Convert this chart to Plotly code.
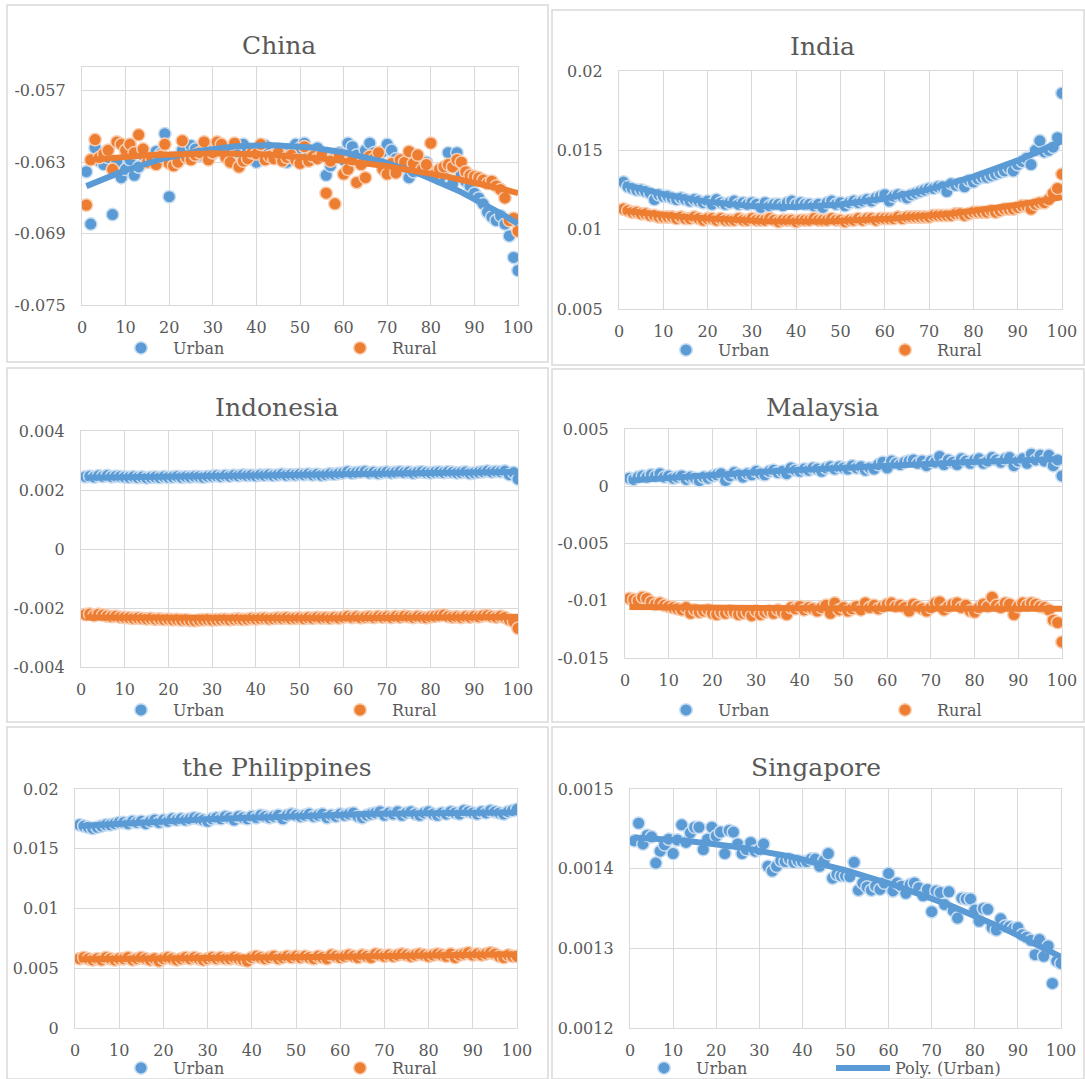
import numpy as np
import plotly.graph_objects as go

W, H = 1085, 1079

# Percentile positions shared by every panel
pctl = list(range(1, 101))

x_tickvals = [0, 10, 20, 30, 40, 50, 60, 70, 80, 90, 100]
x_ticktext = ["0", "10", "20", "30", "40", "50", "60", "70", "80", "90", "100"]

# ---------------- China ----------------
china_urban = [
    -0.0638, -0.0682, -0.0618, -0.0629, -0.0632, -0.0626, -0.0674, -0.0630, -0.0643, -0.0636,
    -0.0628, -0.0641, -0.0634, -0.0624, -0.0630, -0.0626, -0.0621, -0.0623, -0.0606, -0.0659,
    -0.0626, -0.0629, -0.0620, -0.0626, -0.0616, -0.0619, -0.0624, -0.0621, -0.0619, -0.0623,
    -0.0617, -0.0620, -0.0625, -0.0619, -0.0616, -0.0622, -0.0615, -0.0620, -0.0627, -0.0630,
    -0.0618, -0.0616, -0.0621, -0.0624, -0.0619, -0.0622, -0.0630, -0.0620, -0.0615, -0.0618,
    -0.0614, -0.0621, -0.0625, -0.0618, -0.0623, -0.0641, -0.0633, -0.0626, -0.0622, -0.0628,
    -0.0614, -0.0617, -0.0624, -0.0629, -0.0620, -0.0614, -0.0622, -0.0626, -0.0621, -0.0615,
    -0.0620, -0.0627, -0.0631, -0.0634, -0.0643, -0.0638, -0.0636, -0.0634, -0.0630, -0.0638,
    -0.0641, -0.0644, -0.0636, -0.0622, -0.0648, -0.0622, -0.0640, -0.0646, -0.0650, -0.0656,
    -0.0660, -0.0665, -0.0672, -0.0676, -0.0679, -0.0675, -0.0682, -0.0692, -0.0710, -0.0721,
]
china_rural = [
    -0.0666, -0.0628, -0.0611, -0.0626, -0.0623, -0.0620, -0.0636, -0.0613, -0.0615, -0.0620,
    -0.0615, -0.0622, -0.0607, -0.0619, -0.0630, -0.0627, -0.0632, -0.0625, -0.0615, -0.0631,
    -0.0633, -0.0630, -0.0612, -0.0626, -0.0628, -0.0624, -0.0622, -0.0613, -0.0628, -0.0622,
    -0.0613, -0.0615, -0.0626, -0.0630, -0.0614, -0.0634, -0.0629, -0.0627, -0.0622, -0.0623,
    -0.0615, -0.0628, -0.0625, -0.0627, -0.0622, -0.0629, -0.0626, -0.0624, -0.0628, -0.0631,
    -0.0617, -0.0629, -0.0625, -0.0627, -0.0624, -0.0656, -0.0629, -0.0665, -0.0624, -0.0640,
    -0.0636, -0.0628, -0.0647, -0.0632, -0.0643, -0.0625, -0.0627, -0.0622, -0.0636, -0.0640,
    -0.0631, -0.0639, -0.0628, -0.0630, -0.0621, -0.0631, -0.0624, -0.0636, -0.0632, -0.0614,
    -0.0640, -0.0636, -0.0634, -0.0632, -0.0634, -0.0628, -0.0630, -0.0638, -0.0641, -0.0642,
    -0.0643, -0.0645, -0.0648, -0.0646, -0.0650, -0.0653, -0.0660, -0.0679, -0.0677, -0.0688,
]
china_ticks = [-0.075, -0.069, -0.063, -0.057]
china_ticktext = ["-0.075", "-0.069", "-0.063", "-0.057"]

# ---------------- India ----------------
india_urban = [
    0.0130, 0.0127, 0.0126, 0.0125, 0.0125, 0.0124, 0.0123, 0.0119, 0.0122, 0.0121,
    0.0121, 0.0120, 0.0119, 0.0120, 0.0119, 0.0118, 0.0119, 0.0118, 0.0117, 0.0118,
    0.0116, 0.0119, 0.0117, 0.0116, 0.0117, 0.0118, 0.0116, 0.0117, 0.0116, 0.0117,
    0.0116, 0.0114, 0.0117, 0.0115, 0.0116, 0.0116, 0.0115, 0.0117, 0.0118, 0.0116,
    0.0117, 0.0116, 0.0116, 0.0115, 0.0116, 0.0114, 0.0117, 0.0118, 0.0116, 0.0117,
    0.0115, 0.0117, 0.0118, 0.0117, 0.0118, 0.0119, 0.0118, 0.0120, 0.0121, 0.0122,
    0.0118, 0.0121, 0.0122, 0.0121, 0.0120, 0.0122, 0.0123, 0.0124, 0.0125, 0.0126,
    0.0126, 0.0127, 0.0127, 0.0124, 0.0129, 0.0128, 0.0129, 0.0127, 0.0131, 0.0130,
    0.0132, 0.0133, 0.0133, 0.0134, 0.0135, 0.0136, 0.0137, 0.0139, 0.0137, 0.0141,
    0.0143, 0.0145, 0.0141, 0.0150, 0.0156, 0.0149, 0.0150, 0.0152, 0.0158, 0.0186,
]
india_rural = [
    0.0113, 0.0112, 0.0111, 0.0111, 0.0110, 0.0110, 0.0109, 0.0109, 0.0108, 0.0108,
    0.0108, 0.0108, 0.0107, 0.0108, 0.0107, 0.0107, 0.0108, 0.0107, 0.0106, 0.0107,
    0.0107, 0.0106, 0.0107, 0.0106, 0.0106, 0.0106, 0.0107, 0.0106, 0.0106, 0.0107,
    0.0106, 0.0106, 0.0106, 0.0107, 0.0106, 0.0105, 0.0106, 0.0106, 0.0106, 0.0105,
    0.0106, 0.0106, 0.0106, 0.0107, 0.0106, 0.0106, 0.0106, 0.0107, 0.0106, 0.0106,
    0.0105, 0.0106, 0.0106, 0.0107, 0.0106, 0.0107, 0.0107, 0.0106, 0.0107, 0.0107,
    0.0107, 0.0107, 0.0108, 0.0107, 0.0108, 0.0108, 0.0108, 0.0108, 0.0108, 0.0108,
    0.0109, 0.0109, 0.0109, 0.0109, 0.0109, 0.0110, 0.0110, 0.0109, 0.0110, 0.0111,
    0.0111, 0.0111, 0.0111, 0.0112, 0.0111, 0.0112, 0.0113, 0.0113, 0.0113, 0.0114,
    0.0115, 0.0115, 0.0113, 0.0116, 0.0117, 0.0117, 0.0119, 0.0123, 0.0126, 0.0135,
]
india_ticks = [0.005, 0.01, 0.015, 0.02]
india_ticktext = ["0.005", "0.01", "0.015", "0.02"]

# ---------------- Indonesia ----------------
indonesia_urban = [
    0.00245, 0.00247, 0.00244, 0.00248, 0.00246, 0.00249, 0.00245, 0.00247, 0.00246, 0.00244,
    0.00243, 0.00245, 0.00242, 0.00244, 0.00241, 0.00243, 0.00244, 0.00242, 0.00245, 0.00243,
    0.00244, 0.00246, 0.00243, 0.00245, 0.00244, 0.00246, 0.00245, 0.00243, 0.00246, 0.00247,
    0.00248, 0.00246, 0.00249, 0.00247, 0.00250, 0.00248, 0.00251, 0.00249, 0.00250, 0.00248,
    0.00251, 0.00250, 0.00252, 0.00249, 0.00251, 0.00253, 0.00250, 0.00252, 0.00251, 0.00253,
    0.00252, 0.00254, 0.00251, 0.00253, 0.00250, 0.00252, 0.00255, 0.00253, 0.00256, 0.00258,
    0.00262, 0.00257, 0.00259, 0.00261, 0.00263, 0.00258, 0.00260, 0.00256, 0.00259, 0.00261,
    0.00258, 0.00260, 0.00262, 0.00259, 0.00261, 0.00257, 0.00260, 0.00262, 0.00259, 0.00258,
    0.00260, 0.00261, 0.00259, 0.00262, 0.00260, 0.00258, 0.00259, 0.00261, 0.00256, 0.00258,
    0.00260, 0.00262, 0.00264, 0.00261, 0.00263, 0.00262, 0.00264, 0.00252, 0.00259, 0.00237,
]
indonesia_rural = [
    -0.00222, -0.00220, -0.00226, -0.00221, -0.00224, -0.00227, -0.00229, -0.00228, -0.00231, -0.00232,
    -0.00233, -0.00235, -0.00234, -0.00236, -0.00237, -0.00236, -0.00238, -0.00237, -0.00239, -0.00238,
    -0.00240, -0.00239, -0.00241, -0.00240, -0.00242, -0.00243, -0.00241, -0.00240, -0.00239, -0.00241,
    -0.00240, -0.00239, -0.00238, -0.00240, -0.00238, -0.00237, -0.00239, -0.00238, -0.00236, -0.00237,
    -0.00236, -0.00235, -0.00237, -0.00236, -0.00234, -0.00235, -0.00233, -0.00236, -0.00235, -0.00234,
    -0.00236, -0.00233, -0.00235, -0.00232, -0.00234, -0.00233, -0.00235, -0.00232, -0.00234, -0.00231,
    -0.00229, -0.00232, -0.00230, -0.00233, -0.00231, -0.00230, -0.00232, -0.00229, -0.00231, -0.00230,
    -0.00232, -0.00229, -0.00231, -0.00228, -0.00230, -0.00232, -0.00229, -0.00231, -0.00233, -0.00230,
    -0.00228, -0.00226, -0.00224, -0.00229, -0.00231, -0.00230, -0.00232, -0.00229, -0.00231, -0.00228,
    -0.00230, -0.00226, -0.00225, -0.00229, -0.00231, -0.00228, -0.00232, -0.00240, -0.00246, -0.00269,
]
indonesia_ticks = [-0.004, -0.002, 0, 0.002, 0.004]
indonesia_ticktext = ["-0.004", "-0.002", "0", "0.002", "0.004"]

# ---------------- Malaysia ----------------
malaysia_urban = [
    0.0007, 0.0006, 0.0008, 0.0009, 0.0008, 0.0010, 0.0009, 0.0011, 0.0008, 0.0009,
    0.0007, 0.0008, 0.0009, 0.0006, 0.0008, 0.0007, 0.0005, 0.0008, 0.0007, 0.0009,
    0.0010, 0.0011, 0.0005, 0.0009, 0.0012, 0.0010, 0.0008, 0.0011, 0.0010, 0.0013,
    0.0011, 0.0010, 0.0013, 0.0014, 0.0012, 0.0013, 0.0011, 0.0016, 0.0014, 0.0013,
    0.0015, 0.0014, 0.0016, 0.0015, 0.0013, 0.0016, 0.0017, 0.0015, 0.0017, 0.0016,
    0.0015, 0.0018, 0.0016, 0.0017, 0.0014, 0.0016, 0.0015, 0.0019, 0.0021, 0.0016,
    0.0022, 0.0020, 0.0019, 0.0021, 0.0022, 0.0023, 0.0020, 0.0022, 0.0018, 0.0022,
    0.0021, 0.0026, 0.0019, 0.0023, 0.0021, 0.0019, 0.0024, 0.0022, 0.0020, 0.0023,
    0.0024, 0.0020, 0.0022, 0.0025, 0.0023, 0.0021, 0.0024, 0.0025, 0.0018, 0.0022,
    0.0024, 0.0020, 0.0028, 0.0023, 0.0027, 0.0022, 0.0027, 0.0018, 0.0023, 0.0009,
]
malaysia_rural = [
    -0.0098, -0.0099, -0.0100, -0.0097, -0.0098, -0.0101, -0.0103, -0.0102, -0.0104, -0.0105,
    -0.0106, -0.0107, -0.0108, -0.0106, -0.0111, -0.0108, -0.0110, -0.0109, -0.0108, -0.0111,
    -0.0112, -0.0110, -0.0111, -0.0109, -0.0110, -0.0112, -0.0111, -0.0110, -0.0113, -0.0109,
    -0.0112, -0.0110, -0.0109, -0.0111, -0.0108, -0.0110, -0.0112, -0.0106, -0.0107, -0.0105,
    -0.0108, -0.0106, -0.0107, -0.0109, -0.0106, -0.0104, -0.0111, -0.0102, -0.0108, -0.0106,
    -0.0109, -0.0107, -0.0105, -0.0108, -0.0102, -0.0106, -0.0104, -0.0107, -0.0105, -0.0103,
    -0.0102, -0.0105, -0.0104, -0.0106, -0.0109, -0.0103, -0.0105, -0.0107, -0.0109, -0.0106,
    -0.0102, -0.0101, -0.0108, -0.0105, -0.0103, -0.0102, -0.0106, -0.0104, -0.0109, -0.0110,
    -0.0106, -0.0103, -0.0105, -0.0097, -0.0104, -0.0106, -0.0102, -0.0103, -0.0112, -0.0105,
    -0.0102, -0.0104, -0.0102, -0.0103, -0.0105, -0.0106, -0.0108, -0.0117, -0.0119, -0.0136,
]
malaysia_ticks = [-0.015, -0.01, -0.005, 0, 0.005]
malaysia_ticktext = ["-0.015", "-0.01", "-0.005", "0", "0.005"]

# ---------------- the Philippines ----------------
philippines_urban = [
    0.0170, 0.0169, 0.0168, 0.0167, 0.0168, 0.0169, 0.0170, 0.0170, 0.0171, 0.0172,
    0.0172, 0.0171, 0.0173, 0.0172, 0.0173, 0.0171, 0.0173, 0.0174, 0.0172, 0.0174,
    0.0173, 0.0175, 0.0174, 0.0175, 0.0174, 0.0175, 0.0176, 0.0175, 0.0174, 0.0173,
    0.0175, 0.0176, 0.0175, 0.0177, 0.0176, 0.0174, 0.0177, 0.0176, 0.0175, 0.0177,
    0.0176, 0.0178, 0.0177, 0.0176, 0.0177, 0.0178, 0.0175, 0.0178, 0.0179, 0.0178,
    0.0177, 0.0178, 0.0179, 0.0177, 0.0178, 0.0179, 0.0176, 0.0178, 0.0177, 0.0179,
    0.0178, 0.0179, 0.0180, 0.0177, 0.0176, 0.0178, 0.0179, 0.0180, 0.0181, 0.0178,
    0.0180, 0.0179, 0.0181, 0.0178, 0.0180, 0.0181, 0.0179, 0.0178, 0.0180, 0.0181,
    0.0179, 0.0178, 0.0180, 0.0179, 0.0181, 0.0180, 0.0179, 0.0182, 0.0181, 0.0180,
    0.0179, 0.0181, 0.0180, 0.0182, 0.0181, 0.0180, 0.0179, 0.0181, 0.0182, 0.0183,
]
philippines_rural = [
    0.0058, 0.0059, 0.0058, 0.0057, 0.0058, 0.0057, 0.0059, 0.0058, 0.0057, 0.0058,
    0.0058, 0.0059, 0.0057, 0.0058, 0.0059, 0.0058, 0.0057, 0.0058, 0.0056, 0.0058,
    0.0059, 0.0058, 0.0057, 0.0058, 0.0059, 0.0058, 0.0059, 0.0058, 0.0057, 0.0058,
    0.0059, 0.0058, 0.0059, 0.0058, 0.0058, 0.0059, 0.0058, 0.0057, 0.0056, 0.0059,
    0.0060, 0.0059, 0.0058, 0.0059, 0.0060, 0.0058, 0.0059, 0.0060, 0.0059, 0.0060,
    0.0059, 0.0060, 0.0059, 0.0058, 0.0060, 0.0059, 0.0058, 0.0061, 0.0060, 0.0059,
    0.0060, 0.0061, 0.0060, 0.0059, 0.0061, 0.0060, 0.0059, 0.0062, 0.0061, 0.0060,
    0.0061, 0.0060, 0.0061, 0.0062, 0.0061, 0.0060, 0.0061, 0.0062, 0.0061, 0.0060,
    0.0061, 0.0062, 0.0061, 0.0060, 0.0062, 0.0059, 0.0061, 0.0062, 0.0063, 0.0061,
    0.0062, 0.0061, 0.0062, 0.0063, 0.0062, 0.0060, 0.0059, 0.0061, 0.0060, 0.0060,
]
philippines_ticks = [0, 0.005, 0.01, 0.015, 0.02]
philippines_ticktext = ["0", "0.005", "0.01", "0.015", "0.02"]

# ---------------- Singapore ----------------
singapore_urban = [
    0.001435, 0.001457, 0.001431, 0.001442, 0.001440, 0.001407, 0.001422, 0.001430, 0.001437, 0.001419,
    0.001436, 0.001455, 0.001433, 0.001445, 0.001452, 0.001452, 0.001424, 0.001437, 0.001452, 0.001441,
    0.001446, 0.001419, 0.001448, 0.001446, 0.001431, 0.001419, 0.001424, 0.001433, 0.001422, 0.001424,
    0.001431, 0.001403, 0.001397, 0.001403, 0.001410, 0.001409, 0.001412, 0.001408, 0.001410, 0.001409,
    0.001409, 0.001412, 0.001412, 0.001403, 0.001410, 0.001419, 0.001388, 0.001393, 0.001391, 0.001391,
    0.001390, 0.001408, 0.001373, 0.001382, 0.001377, 0.001373, 0.001378, 0.001374, 0.001382, 0.001394,
    0.001372, 0.001382, 0.001378, 0.001369, 0.001380, 0.001382, 0.001376, 0.001366, 0.001374, 0.001346,
    0.001372, 0.001370, 0.001355, 0.001371, 0.001347, 0.001338, 0.001363, 0.001362, 0.001362, 0.001348,
    0.001334, 0.001350, 0.001349, 0.001326, 0.001323, 0.001337, 0.001328, 0.001327, 0.001325, 0.001326,
    0.001317, 0.001314, 0.001310, 0.001292, 0.001311, 0.001290, 0.001303, 0.001256, 0.001284, 0.001281,
]
singapore_ticks = [0.0012, 0.0013, 0.0014, 0.0015]
singapore_ticktext = ["0.0012", "0.0013", "0.0014", "0.0015"]

BLUE = "#5B9BD5"
ORANGE = "#ED7D31"
BLUE_EDGE = "#C9DDF1"
ORANGE_EDGE = "#F9CDB0"
GRID = "#D9D9D9"
TEXT = "#595959"
FONT = "DejaVu Serif"

# panel: title, series, y range, ticks, plot box (left, right, top, bottom in px),
#        frame box, title centre, first legend marker centre, legend entry width
panels = [
    dict(title="China", urban=china_urban, rural=china_rural,
         yrange=[-0.075, -0.055], ticks=china_ticks, ticktext=china_ticktext,
         box=(82, 518, 67, 305), frame=(7, 548, 5, 362), tc=(279, 45),
         leg=(143, 348), ew=150),
    dict(title="India", urban=india_urban, rural=india_rural,
         yrange=[0.005, 0.02], ticks=india_ticks, ticktext=india_ticktext,
         box=(619, 1062, 71, 309), frame=(552, 1084, 10, 365), tc=(822, 47),
         leg=(688, 350), ew=150),
    dict(title="Indonesia", urban=indonesia_urban, rural=indonesia_rural,
         yrange=[-0.004, 0.004], ticks=indonesia_ticks, ticktext=indonesia_ticktext,
         box=(81, 518, 431, 667), frame=(7, 548, 368, 722), tc=(277, 408),
         leg=(143, 710), ew=150),
    dict(title="Malaysia", urban=malaysia_urban, rural=malaysia_rural,
         yrange=[-0.015, 0.005], ticks=malaysia_ticks, ticktext=malaysia_ticktext,
         box=(625, 1062, 429, 658), frame=(552, 1084, 369, 722), tc=(822, 407),
         leg=(688, 710), ew=150),
    dict(title="the Philippines", urban=philippines_urban, rural=philippines_rural,
         yrange=[0, 0.02], ticks=philippines_ticks, ticktext=philippines_ticktext,
         box=(75, 517, 789, 1028), frame=(7, 548, 727, 1079), tc=(277, 767),
         leg=(143, 1068), ew=150),
    dict(title="Singapore", urban=singapore_urban, rural=None,
         yrange=[0.0012, 0.0015], ticks=singapore_ticks, ticktext=singapore_ticktext,
         box=(630, 1061, 789, 1028), frame=(552, 1084, 727, 1079), tc=(816, 767),
         leg=(666, 1068), ew=130),
]

fig = go.Figure()
layout = dict(
    width=W, height=H, margin=dict(l=0, r=0, t=0, b=0, autoexpand=False),
    paper_bgcolor="white", plot_bgcolor="white",
    font=dict(family=FONT, color=TEXT),
    shapes=[], annotations=[],
)


def marker(color, edge):
    return dict(size=12.5, color=color, line=dict(color=edge, width=1.5))


for i, p in enumerate(panels, start=1):
    sfx = "" if i == 1 else str(i)
    xa, ya = "x" + sfx, "y" + sfx
    leg = "legend" + sfx
    left, right, top, bottom = p["box"]

    layout["xaxis" + sfx] = dict(
        domain=[left / W, right / W], anchor=ya, range=[0, 100],
        tickvals=x_tickvals, ticktext=x_ticktext,
        showgrid=True, gridcolor=GRID, gridwidth=1.3,
        showline=True, linecolor=GRID, linewidth=1.3, mirror=True,
        zeroline=False, ticks="", ticklabelstandoff=8,
        tickfont=dict(family=FONT, size=16, color=TEXT),
    )
    layout["yaxis" + sfx] = dict(
        domain=[1 - bottom / H, 1 - top / H], anchor=xa, range=p["yrange"],
        tickvals=p["ticks"], ticktext=p["ticktext"],
        showgrid=True, gridcolor=GRID, gridwidth=1.3,
        showline=True, linecolor=GRID, linewidth=1.3, mirror=True,
        zeroline=False, ticks="", ticklabelstandoff=12,
        tickfont=dict(family=FONT, size=16, color=TEXT),
    )

    xs = np.array(pctl, dtype=float)
    fit_x = np.linspace(1, 100, 200)

    fig.add_trace(go.Scatter(
        x=pctl, y=p["urban"], mode="markers", name="Urban",
        marker=marker(BLUE, BLUE_EDGE), xaxis=xa, yaxis=ya, legend=leg,
        showlegend=True, hoverinfo="skip"))
    if p["rural"] is not None:
        fig.add_trace(go.Scatter(
            x=pctl, y=p["rural"], mode="markers", name="Rural",
            marker=marker(ORANGE, ORANGE_EDGE), xaxis=xa, yaxis=ya, legend=leg,
            showlegend=True, hoverinfo="skip"))

    # second-order polynomial trend lines fitted to each series
    cu = np.polyfit(xs, np.array(p["urban"]), 2)
    fig.add_trace(go.Scatter(
        x=fit_x, y=np.polyval(cu, fit_x), mode="lines", name="Poly. (Urban)",
        line=dict(color=BLUE, width=6), xaxis=xa, yaxis=ya, legend=leg,
        showlegend=p["rural"] is None, hoverinfo="skip"))
    if p["rural"] is not None:
        cr = np.polyfit(xs, np.array(p["rural"]), 2)
        fig.add_trace(go.Scatter(
            x=fit_x, y=np.polyval(cr, fit_x), mode="lines", name="Poly. (Rural)",
            line=dict(color=ORANGE, width=6), xaxis=xa, yaxis=ya, legend=leg,
            showlegend=False, hoverinfo="skip"))

    lx, ly = p["leg"]
    layout[leg] = dict(
        x=(lx - 34) / W, y=1 - ly / H, xanchor="left", yanchor="middle",
        orientation="h", itemwidth=54, entrywidth=p["ew"], entrywidthmode="pixels",
        bgcolor="rgba(0,0,0,0)", borderwidth=0,
        font=dict(family=FONT, size=16, color=TEXT),
        itemclick=False, itemdoubleclick=False, tracegroupgap=0,
    )

    fx0, fx1, fy0, fy1 = p["frame"]
    layout["shapes"].append(dict(
        type="rect", xref="paper", yref="paper",
        x0=fx0 / W, x1=fx1 / W, y0=1 - fy1 / H, y1=1 - fy0 / H,
        line=dict(color=GRID, width=1.5), fillcolor="rgba(0,0,0,0)", layer="below"))

    tx, ty = p["tc"]
    layout["annotations"].append(dict(
        text=p["title"], x=tx / W, y=1 - ty / H, xref="paper", yref="paper",
        xanchor="center", yanchor="middle", showarrow=False,
        font=dict(family=FONT, size=25, color=TEXT)))

fig.update_layout(**layout)
fig.write_html("out.html")
